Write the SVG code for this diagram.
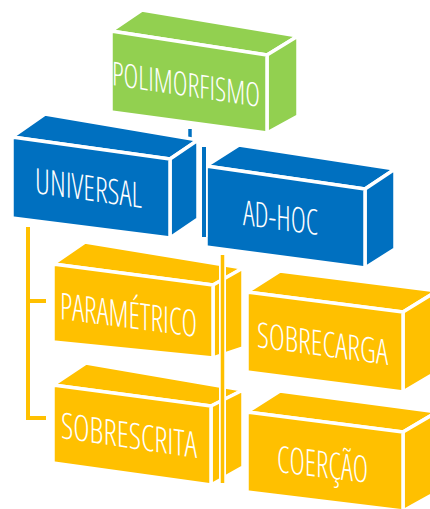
<svg xmlns="http://www.w3.org/2000/svg" width="430" height="509" viewBox="0 0 430 509">
<style>
.face{stroke:#FFFFFF;stroke-width:3.5;stroke-linejoin:miter}
.g{fill:#92D050}
.b{fill:#0070C0}
.y{fill:#FFC000}
.lbl{font-family:"Open Sans","Liberation Sans",sans-serif;fill:#FFFFFF;font-weight:300;font-stretch:condensed}
.halo{stroke:#FFFFFF;stroke-width:7;fill:none}
</style>
<rect width="430" height="509" fill="#FFFFFF"/>
<g id="connectors-back">
<line x1="190" y1="129" x2="190" y2="142" stroke="#0070C0" stroke-width="3.5"/>
</g>
<g id="n-polimorfismo">
<polygon class="face g" points="111,31 142,10 298,36 267,55"/>
<polygon class="face g" points="267,55 298,36 298,116 267,133"/>
<polygon class="face g" points="111,31 267,55 267,133 111,112"/>
<text class="lbl" font-size="33" textLength="148" lengthAdjust="spacingAndGlyphs" transform="translate(112,85) matrix(1,0.149,0,1,0,0)">POLIMORFISMO</text>
</g>
<g id="n-universal">
<polygon class="face b" points="12,137 45,114 198,140 170,159"/>
<polygon class="face b" points="170,159 198,140 198,219 170,238"/>
<polygon class="face b" points="12,137 170,159 170,238 12,218"/>
<text class="lbl" font-size="35" textLength="107" lengthAdjust="spacingAndGlyphs" transform="translate(35,193) matrix(1,0.14,0,1,0,0)">UNIVERSAL</text>
</g>
<g id="n-adhoc">
<polygon class="face b" points="206,166 239,145 395,169 365,189"/>
<polygon class="face b" points="365,189 395,169 395,249 365,268"/>
<polygon class="face b" points="206,166 365,189 365,268 206,247"/>
<text class="lbl" font-size="35" textLength="75" lengthAdjust="spacingAndGlyphs" transform="translate(243,225) matrix(1,0.133,0,1,0,0)">AD-HOC</text>
</g>
<g id="n-parametrico">
<polygon class="face y" points="53,264 85,242 243,268 213,285"/>
<polygon class="face y" points="213,285 243,268 243,348 213,358"/>
<polygon class="face y" points="53,264 213,285 213,358 53,342"/>
<text class="lbl" font-size="37" textLength="137" lengthAdjust="spacingAndGlyphs" transform="translate(60,319) matrix(1,0.131,0,1,0,0)">PARAMÉTRICO</text>
</g>
<g id="n-sobrecarga">
<polygon class="face y" points="247,292 280,271 437,291 403,312"/>
<polygon class="face y" points="403,312 437,291 437,372 403,392"/>
<polygon class="face y" points="247,292 403,312 403,392 247,372"/>
<text class="lbl" font-size="35" textLength="131" lengthAdjust="spacingAndGlyphs" transform="translate(257,347) matrix(1,0.137,0,1,0,0)">SOBRECARGA</text>
</g>
<g id="n-sobrescrita">
<polygon class="face y" points="53,385 86,363 243,390 211,406"/>
<polygon class="face y" points="211,406 243,390 243,467 211,485"/>
<polygon class="face y" points="53,385 211,406 211,485 53,463"/>
<text class="lbl" font-size="36" textLength="136" lengthAdjust="spacingAndGlyphs" transform="translate(61,438) matrix(1,0.147,0,1,0,0)">SOBRESCRITA</text>
</g>
<g id="n-coercao">
<polygon class="face y" points="247,412 280,391 437,412 403,432"/>
<polygon class="face y" points="403,432 437,412 437,492 403,511"/>
<polygon class="face y" points="247,412 403,432 403,511 247,492"/>
<text class="lbl" font-size="37" textLength="91" lengthAdjust="spacingAndGlyphs" transform="translate(277,472) matrix(1,0.12,0,1,0,0)">COERÇÃO</text>
</g>
<g id="connectors">
<line class="halo" x1="204" y1="147" x2="204" y2="237"/>
<line x1="204" y1="147" x2="204" y2="237" stroke="#0070C0" stroke-width="4"/>
<line class="halo" x1="222.5" y1="255" x2="222.5" y2="483"/>
<line x1="222.5" y1="255" x2="222.5" y2="483" stroke="#FFC000" stroke-width="3.5"/>
<polyline points="46,301 28,301 28,227" fill="none" stroke="#FFC000" stroke-width="4"/>
<polyline points="28,300 28,418 46,418" fill="none" stroke="#FFC000" stroke-width="4"/>
</g>
</svg>
